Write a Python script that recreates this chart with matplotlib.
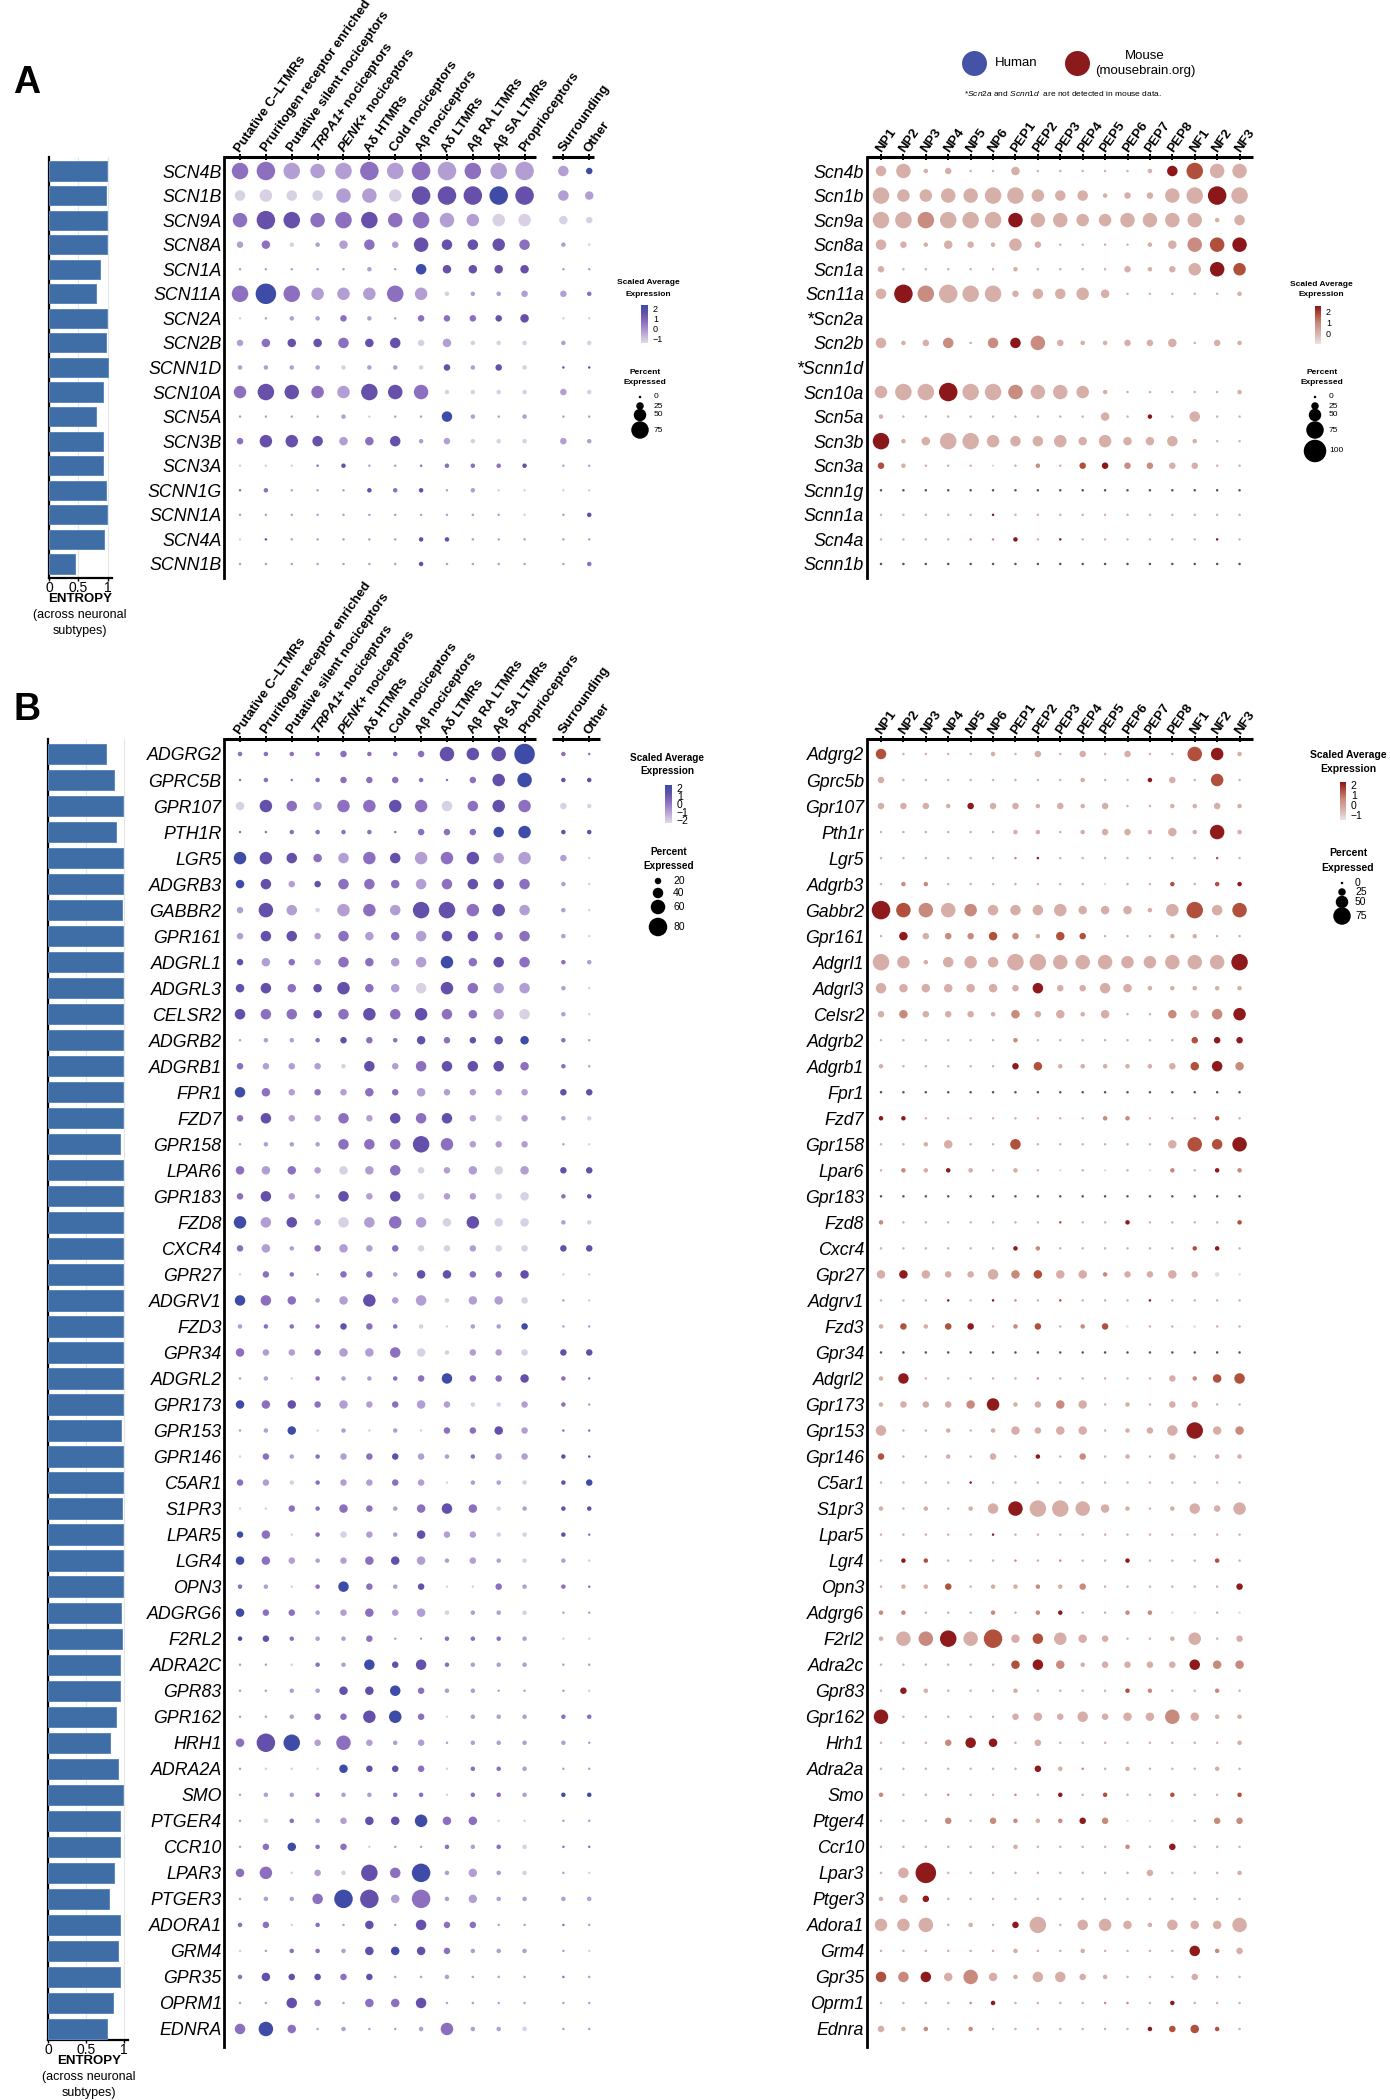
import numpy as np
import matplotlib
matplotlib.use("Agg")
import matplotlib.pyplot as plt
from matplotlib.colors import LinearSegmentedColormap, Normalize
from matplotlib.cm import ScalarMappable

W, H = 1390, 2100
plt.rcParams['font.family'] = ['Liberation Sans', 'DejaVu Sans']
plt.rcParams['mathtext.fontset'] = 'custom'
plt.rcParams['mathtext.rm'] = 'Liberation Sans'
plt.rcParams['mathtext.it'] = 'Liberation Sans:italic'
plt.rcParams['mathtext.bf'] = 'Liberation Sans:bold'
try:
    plt.rcParams['mathtext.bfit'] = 'Liberation Sans:italic:bold'
    BFIT = r'\mathbfit'
except Exception:
    BFIT = r'\mathit'

# ---------------------------------------------------------------- data
HUMAN_COLS = ["Putative C\u2013LTMRs", "Pruritogen receptor enriched",
              "Putative silent nociceptors", "$" + BFIT + "{TRPA1}$+ nociceptors",
              "$" + BFIT + "{PENK}$+ nociceptors", "A\u03b4 HTMRs", "Cold nociceptors",
              "A\u03b2 nociceptors", "A\u03b4 LTMRs", "A\u03b2 RA LTMRs", "A\u03b2 SA LTMRs",
              "Proprioceptors", "Surrounding", "Other"]
MOUSE_COLS = ["NP1", "NP2", "NP3", "NP4", "NP5", "NP6", "PEP1", "PEP2", "PEP3", "PEP4",
              "PEP5", "PEP6", "PEP7", "PEP8", "NF1", "NF2", "NF3"]

# ---- Panel A (sodium channels)
HUMAN_A_GENES = ["SCN4B", "SCN1B", "SCN9A", "SCN8A", "SCN1A", "SCN11A", "SCN2A", "SCN2B",
                 "SCNN1D", "SCN10A", "SCN5A", "SCN3B", "SCN3A", "SCNN1G", "SCNN1A",
                 "SCN4A", "SCNN1B"]
MOUSE_A_GENES = ["Scn4b", "Scn1b", "Scn9a", "Scn8a", "Scn1a", "Scn11a", "*Scn2a", "Scn2b",
                 "*Scnn1d", "Scn10a", "Scn5a", "Scn3b", "Scn3a", "Scnn1g", "Scnn1a",
                 "Scn4a", "Scnn1b"]
ENTROPY_A = [0.99, 0.97, 0.99, 0.98, 0.86, 0.79, 0.99, 0.97, 1.0, 0.91, 0.79, 0.91,
             0.92, 0.97, 0.99, 0.93, 0.45]
# percent expressed, tens digit per cell (human: 12 neuronal + surrounding, other)
HUMAN_A_PCT = ["787678788778 42", "454466588888 43", "687677676555 32", "231134264454 10",
               "000001043333 00", "797555751112 21", "001121022223 00", "233343423111 11",
               "111111112121 00", "576557661111 21", "000010004101 00", "255433412111 21",
               "000010001111 00", "010001110100 00", "000000000000 01", "000000011000 00",
               "000000010000 01"]
# scaled average expression, level code 0 (low) .. 4 (high)
HUMAN_A_EXP = ["221112121211 14", "000011033343 11", "233223221100 00", "120112133332 10",
               "111111143333 11", "242111210111 12", "011121122233 00", "123323301000 10",
               "111101103130 33", "233213320000 10", "111110114111 11", "233312311000 11",
               "000231122223 11", "221113231100 00", "111111111110 13", "031111133111 11",
               "111111131111 12"]
MOUSE_A_PCT = ["461200 30000014 766", "755667 75441226 787", "777777 66655666 614",
               "421321 52000013 666", "200000 10000212 565", "487877 24453000 001",
               "", "412404 46211223 021", "", "577877 66651000 001",
               "100000 00003010 400", "713775 44535334 100", "210000 01022222 200",
               "000000 00000000 000", "000000 00000000 000", "000000 10000000 000",
               "000000 00000000 000"]
MOUSE_A_EXP = ["111111 11111114 311", "111111 11111111 141", "112111 41111111 111",
               "111111 11111111 234", "111111 11111111 143", "142111 11111111 111",
               "", "111212 42111111 111", "", "111411 21111111 111",
               "111111 11111141 111", "411111 11111111 111", "311110 12134221 111",
               "gggggg gggggggg ggg", "111114 11111111 111", "111122 41411111 141",
               "gggggg gggggggg ggg"]

# ---- Panel B (GPCRs)
HUMAN_B_GENES = ["ADGRG2", "GPRC5B", "GPR107", "PTH1R", "LGR5", "ADGRB3", "GABBR2", "GPR161",
                 "ADGRL1", "ADGRL3", "CELSR2", "ADGRB2", "ADGRB1", "FPR1", "FZD7", "GPR158",
                 "LPAR6", "GPR183", "FZD8", "CXCR4", "GPR27", "ADGRV1", "FZD3", "GPR34",
                 "ADGRL2", "GPR173", "GPR153", "GPR146", "C5AR1", "S1PR3", "LPAR5", "LGR4",
                 "OPN3", "ADGRG6", "F2RL2", "ADRA2C", "GPR83", "GPR162", "HRH1", "ADRA2A",
                 "SMO", "PTGER4", "CCR10", "LPAR3", "PTGER3", "ADORA1", "GRM4", "GPR35",
                 "OPRM1", "EDNRA"]
MOUSE_B_GENES = ["Adgrg2", "Gprc5b", "Gpr107", "Pth1r", "Lgr5", "Adgrb3", "Gabbr2", "Gpr161",
                 "Adgrl1", "Adgrl3", "Celsr2", "Adgrb2", "Adgrb1", "Fpr1", "Fzd7", "Gpr158",
                 "Lpar6", "Gpr183", "Fzd8", "Cxcr4", "Gpr27", "Adgrv1", "Fzd3", "Gpr34",
                 "Adgrl2", "Gpr173", "Gpr153", "Gpr146", "C5ar1", "S1pr3", "Lpar5", "Lgr4",
                 "Opn3", "Adgrg6", "F2rl2", "Adra2c", "Gpr83", "Gpr162", "Hrh1", "Adra2a",
                 "Smo", "Ptger4", "Ccr10", "Lpar3", "Ptger3", "Adora1", "Grm4", "Gpr35",
                 "Oprm1", "Ednra"]
ENTROPY_B = [0.76, 0.86, 0.99, 0.89, 0.98, 0.99, 0.97, 0.98, 0.98, 0.98, 0.99, 0.98, 0.98,
             0.98, 0.99, 0.94, 0.98, 0.98, 0.98, 0.98, 0.98, 0.98, 0.98, 0.98, 0.99, 0.98,
             0.96, 0.99, 0.98, 0.97, 0.98, 0.98, 0.98, 0.96, 0.97, 0.94, 0.94, 0.89, 0.82,
             0.92, 0.98, 0.95, 0.95, 0.87, 0.80, 0.94, 0.92, 0.95, 0.85, 0.78]
HUMAN_B_PCT = ["111121126569 10", "010122210256 11", "354355554455 21", "001111022245 11",
               "554345455545 20", "342244344444 10", "264155477554 10", "244243344434 10",
               "232243345344 11", "343353345444 10", "444345454344 10", "011122132233 10",
               "222214244443 10", "432223232222 22", "242242444222 11", "011144475222 00",
               "333233422333 22", "242142422223 11", "544244543533 11", "231232222222 22",
               "021022133223 00", "443135241332 00", "111122110112 00", "322233431222 22",
               "010111124223 10", "333232232112 10", "013010102232 00", "021122221122 10",
               "221122220111 12", "002132134311 11", "230122132211 10", "332123331211 10",
               "110142120021 10", "322123231111 00", "121112001111 00", "000114241111 00",
               "001133421100 00", "001225520111 11", "387262120111 10", "000032220111 00",
               "011111110111 11", "011123353300 00", "023120001111 00", "350217481311 00",
               "011488381311 11", "120103042200 00", "001113332111 00", "132222001000 00",
               "004203340000 00", "463010015111 00"]
HUMAN_B_EXP = ["222222223334 22", "222222222234 33", "032122320232 00", "222222222244 33",
               "433212312311 10", "431322212332 10", "131012133231 10", "133121213322 10",
               "312122114232 21", "332332103211 10", "322323232210 10", "111232232334 21",
               "211103123332 21", "421212211111 33", "231121323101 10", "111122232111 10",
               "212101201101 33", "231131301100 23", "413101210300 10", "211211200100 33",
               "022122133223 00", "422113110110 10", "122232200114 11", "211211200110 33",
               "110211224223 22", "423211211001 21", "114010102231 22", "021212311211 33",
               "210211210110 34", "002222123201 33", "420201131100 32", "421112311110 10",
               "210242130021 22", "422112110110 11", "432112112221 00", "110214332111 11",
               "111133421111 10", "111223420111 22", "234121111111 11", "100043320221 11",
               "111211220221 44", "102113342200 11", "124220112120 22", "220103241110 10",
               "111243121111 11", "220213132211 21", "012213432111 10", "233323111111 21",
               "113212231111 11", "242111112110 11"]
MOUSE_B_PCT = ["400001 02020200 651", "200000 00010012 050", "222122 21212001 121",
               "000000 11012213 161", "000000 00000000 000", "011000 00000001 011",
               "866654 44533315 746", "032223 21320001 100", "751454 77666556 667",
               "433333 24224311 111", "232221 32313003 345", "000000 10000000 222",
               "100000 23111112 343", "000000 00000000 000", "110000 00001100 010",
               "001300 40000003 646", "011110 10000001 011", "000000 00000000 000",
               "100000 00000100 001", "000000 11000000 110", "333224 33331223 210",
               "000000 00000000 000", "121220 12012000 000", "000000 00000000 000",
               "140000 00000002 134", "122235 12330102 200", "400101 32330124 733",
               "200102 01020102 011", "000000 00000000 000", "101014 67763101 425",
               "000000 00000000 000", "011000 00000100 010", "011201 11120000 002",
               "110001 01100110 000", "166768 34532001 502", "000000 34312222 433",
               "021000 10000110 010", "600000 23242336 311", "000243 02000000 001",
               "000000 02100100 010", "100000 00101001 001", "000202 11122000 022",
               "000000 10000102 000", "049000 00000020 001", "132000 00000000 000",
               "556010 27045314 336", "000000 10010000 412", "444363 14421000 200",
               "000001 00000001 000", "211010 00000012 310"]
MOUSE_B_EXP = ["311111 11111111 341", "111111 11111141 131", "111141 11111111 111",
               "111111 11111111 141", "111111 24111111 131", "122111 11110113 134",
               "432121 11111111 313", "141223 21331111 111", "111111 11111111 114",
               "111111 14111111 111", "121111 21111112 124", "111111 21111111 344",
               "111111 43111111 342", "gggggg gggggggg ggg", "441111 11112211 131",
               "111111 31111111 334", "121411 11010102 142", "gggggg gggggggg ggg",
               "211111 11311411 113", "111111 42111111 341", "141111 23112111 100",
               "111414 21311141 111", "131341 23123011 011", "gggggg gggggggg ggg",
               "141111 12111111 233", "111124 11211111 111", "111111 11111111 412",
               "311111 14121111 111", "111141 11111111 111", "111111 41111111 111",
               "111114 11111111 111", "143111 21211411 131", "111311 12121111 114",
               "221112 12411220 010", "112413 13111111 111", "111111 34211111 422",
               "141111 11111321 121", "411111 11111112 111", "111244 11111111 111",
               "111111 14121111 111", "211211 21413113 113", "111212 21242000 122",
               "111111 11111214 111", "114111 11111111 111", "114111 11111111 111",
               "111111 41111111 111", "111111 11111111 421", "324121 11111111 111",
               "111124 11112214 111", "112121 11111143 331"]

# scaled-expression value of each level code, per panel
HUMAN_A_LEVELS = [-1.3, -0.35, 0.6, 1.45, 2.2]
MOUSE_A_LEVELS = [-0.8, 0.05, 0.9, 1.7, 2.4]
HUMAN_B_LEVELS = [-2.15, -0.95, 0.25, 1.35, 2.3]
MOUSE_B_LEVELS = [-1.3, -0.35, 0.6, 1.45, 2.2]

# ---------------------------------------------------------------- styling
HUMAN_CMAP = LinearSegmentedColormap.from_list(
    "hum", [(0.0, "#e0dce8"), (0.3, "#b29ed2"), (0.55, "#8c70bf"), (0.78, "#6550aa"),
            (1.0, "#3b4ca7")])
MOUSE_CMAP = LinearSegmentedColormap.from_list(
    "mou", [(0.0, "#ece4e4"), (0.3, "#d6aea7"), (0.55, "#c98b7f"), (0.78, "#b04f3c"),
            (1.0, "#8a1418")])
NAN_COLOR = "#555555"
BAR_COLOR = "#3f6ea6"

fig = plt.figure(figsize=(W / 100, H / 100), dpi=100)


def rect(x0, y0, x1, y1):
    return [x0 / W, 1 - y1 / H, (x1 - x0) / W, (y1 - y0) / H]


def dot_area(pct):
    d_px = 2.5 + 0.2 * np.asarray(pct, dtype=float)
    return (d_px * 0.72) ** 2


def parse(s):
    return [ch for ch in s if ch != " "]


def dotplot(ax, genes, pct_rows, exp_rows, xpos, levels, cmap, norm):
    xs, ys, ss, cs = [], [], [], []
    for i, (ps, es) in enumerate(zip(pct_rows, exp_rows)):
        p = parse(ps)
        e = parse(es)
        for j in range(min(len(p), len(e), len(xpos))):
            xs.append(xpos[j])
            ys.append(i)
            ss.append(int(p[j]) * 10)
            if e[j] == "g":
                cs.append(NAN_COLOR)
            else:
                cs.append(cmap(norm(levels[int(e[j])])))
    ax.scatter(xs, ys, s=dot_area(ss), c=cs, linewidths=0, zorder=3, clip_on=False)
    ax.set_yticks(range(len(genes)))
    ax.set_yticklabels(genes, fontstyle="italic", fontsize=12.8)
    ax.tick_params(axis="y", length=0, pad=2)
    for sp in ["top", "right", "bottom"]:
        ax.spines[sp].set_visible(False)
    ax.spines["left"].set_linewidth(2.0)
    ax.patch.set_visible(False)


def col_labels(ax, labels, xpos, ytop, fs):
    ax.set_xticks([])
    for lab, x in zip(labels, xpos):
        ax.annotate(lab, xy=(x, ytop), xycoords="data", xytext=(-2, 6),
                    textcoords="offset pixels", rotation=55, ha="left", va="center",
                    rotation_mode="anchor", fontsize=fs, fontweight="bold",
                    annotation_clip=False)
        ax.plot([x, x], [ytop, ytop], marker=(2, 0, 0), ms=4, mew=1.2, color="black",
                clip_on=False, zorder=5)


def top_line(ax, x0, x1, ytop):
    ax.plot([x0, x1], [ytop, ytop], color="black", lw=2.2, clip_on=False,
            solid_capstyle="butt", zorder=5)


def entropy_bars(ax, values, xmax):
    ax.barh(range(len(values)), values, height=0.78, color=BAR_COLOR,
            edgecolor="#5c88bd", linewidth=0.7, zorder=3)
    ax.set_xlim(0, xmax)
    ax.set_xticks([0, 0.5, 1])
    ax.set_xticklabels(["0", "0.5", "1"], fontsize=10)
    ax.tick_params(axis="x", length=2, width=1, pad=0.5)
    ax.set_yticks([])
    ax.grid(axis="x", color="#e6e6e6", lw=0.8, zorder=0)
    ax.set_axisbelow(True)
    for sp in ["top", "right"]:
        ax.spines[sp].set_visible(False)
    ax.spines["left"].set_linewidth(1.6)
    ax.spines["bottom"].set_linewidth(1.6)
    ax.patch.set_visible(False)


# column positions
hx = list(np.arange(12, dtype=float)) + [12.5, 13.5]
mx = list(np.arange(17, dtype=float))
M_LEFT, M_RIGHT = 867, 1253
M_XLIM = (-0.625, 16.6)

# ---------------------------------------------------------------- panel A
A_TOP, A_BOT, A_ROW0, A_STEP = 157, 578, 171, 24.56
ya = (-(A_ROW0 - A_TOP) / A_STEP, (A_BOT - A_ROW0) / A_STEP)
ax_hA = fig.add_axes(rect(224.5, A_TOP, 597, A_BOT))
ax_hA.set_xlim(-0.6, 13.8)
ax_hA.set_ylim(ya[1], ya[0])
norm_hA = Normalize(-1.5, 2.3)
dotplot(ax_hA, HUMAN_A_GENES, HUMAN_A_PCT, HUMAN_A_EXP, hx, HUMAN_A_LEVELS, HUMAN_CMAP, norm_hA)
col_labels(ax_hA, HUMAN_COLS, hx, ya[0], 9.5)
top_line(ax_hA, -0.6, 11.45, ya[0])
top_line(ax_hA, 12.05, 13.7, ya[0])

ax_mA = fig.add_axes(rect(M_LEFT, A_TOP, M_RIGHT, A_BOT))
ax_mA.set_xlim(*M_XLIM)
ax_mA.set_ylim(ya[1], ya[0])
norm_mA = Normalize(-0.95, 2.45)
dotplot(ax_mA, MOUSE_A_GENES, MOUSE_A_PCT, MOUSE_A_EXP, mx, MOUSE_A_LEVELS, MOUSE_CMAP, norm_mA)
col_labels(ax_mA, MOUSE_COLS, mx, ya[0], 9.7)
top_line(ax_mA, M_XLIM[0], M_XLIM[1], ya[0])

ax_eA = fig.add_axes(rect(49, A_TOP, 112, A_BOT))
entropy_bars(ax_eA, ENTROPY_A, 1.07)
ax_eA.set_ylim(ya[1], ya[0])

# ---------------------------------------------------------------- panel B
B_TOP, B_BOT, B_ROW0, B_STEP = 739, 2047, 754, 26.02
yb = (-(B_ROW0 - B_TOP) / B_STEP, (B_BOT - B_ROW0) / B_STEP)
ax_hB = fig.add_axes(rect(224.5, B_TOP, 597, B_BOT))
ax_hB.set_xlim(-0.6, 13.8)
ax_hB.set_ylim(yb[1], yb[0])
norm_hB = Normalize(-2.4, 2.4)
dotplot(ax_hB, HUMAN_B_GENES, HUMAN_B_PCT, HUMAN_B_EXP, hx, HUMAN_B_LEVELS, HUMAN_CMAP, norm_hB)
col_labels(ax_hB, HUMAN_COLS, hx, yb[0], 9.5)
top_line(ax_hB, -0.6, 11.45, yb[0])
top_line(ax_hB, 12.05, 13.9, yb[0])

ax_mB = fig.add_axes(rect(M_LEFT, B_TOP, M_RIGHT, B_BOT))
ax_mB.set_xlim(*M_XLIM)
ax_mB.set_ylim(yb[1], yb[0])
norm_mB = Normalize(-1.5, 2.3)
dotplot(ax_mB, MOUSE_B_GENES, MOUSE_B_PCT, MOUSE_B_EXP, mx, MOUSE_B_LEVELS, MOUSE_CMAP, norm_mB)
col_labels(ax_mB, MOUSE_COLS, mx, yb[0], 9.7)
top_line(ax_mB, M_XLIM[0], M_XLIM[1], yb[0])

B_EBOT = 2040
ax_eB = fig.add_axes(rect(48, B_TOP, 128, B_EBOT))
entropy_bars(ax_eB, ENTROPY_B, 1.05)
ax_eB.set_ylim((B_EBOT - B_ROW0) / B_STEP, yb[0])

# ---------------------------------------------------------------- overlay: labels & legends
ov = fig.add_axes([0, 0, 1, 1])
ov.set_xlim(0, W)
ov.set_ylim(H, 0)
ov.axis("off")
ov.patch.set_visible(False)

ov.text(13, 83, "A", fontsize=27, fontweight="bold", va="center", ha="left")
ov.text(13, 710, "B", fontsize=27, fontweight="bold", va="center", ha="left")

# entropy axis titles
for cx, ys in [(80, (599, 615, 631)), (89, (2061, 2077, 2093))]:
    ov.text(cx, ys[0], "ENTROPY", fontsize=9.5, fontweight="bold", ha="center", va="center")
    ov.text(cx, ys[1], "(across neuronal", fontsize=9, ha="center", va="center")
    ov.text(cx, ys[2], "subtypes)", fontsize=9, ha="center", va="center")

# species legend
ov.scatter([974], [63], s=(25 * 0.72) ** 2, color="#4453a6", linewidths=0)
ov.text(995, 63, "Human", fontsize=9.5, ha="left", va="center")
ov.scatter([1077], [63], s=(25 * 0.72) ** 2, color="#8b1a1c", linewidths=0)
ov.text(1145, 56, "Mouse", fontsize=9.5, ha="center", va="center")
ov.text(1145, 71, "(mousebrain.org)", fontsize=9.5, ha="center", va="center")
ov.text(964, 94, r"*$\mathit{Scn2a}$ and $\mathit{Scnn1d}$  are not detected in mouse data.",
        fontsize=6, ha="left", va="center")


def exp_legend(cx, tys, fs, cbr, norm, cmap, ticks, lfs):
    ov.text(cx, tys[0], "Scaled Average", fontsize=fs, fontweight="bold", ha="center", va="center")
    ov.text(cx, tys[1], "Expression", fontsize=fs, fontweight="bold", ha="center", va="center")
    cax = fig.add_axes(rect(*cbr))
    cb = fig.colorbar(ScalarMappable(norm=norm, cmap=cmap), cax=cax, ticks=ticks)
    cb.outline.set_visible(False)
    cax.tick_params(length=2, width=0.8, color="white", labelsize=lfs, pad=1.5)


def pct_legend(cx, tys, fs, dx, lx, dys, vals, lfs):
    ov.text(cx, tys[0], "Percent", fontsize=fs, fontweight="bold", ha="center", va="center")
    ov.text(cx, tys[1], "Expressed", fontsize=fs, fontweight="bold", ha="center", va="center")
    ov.scatter([dx] * len(vals), dys, s=dot_area(vals), color="black", linewidths=0)
    for v, y in zip(vals, dys):
        ov.text(lx, y, str(v), fontsize=lfs, ha="left", va="center")


exp_legend(648, (283, 294), 6, (641, 305, 648, 343), norm_hA, HUMAN_CMAP, [-1, 0, 1, 2], 6.5)
pct_legend(645, (372, 382), 6, 640, 654, [397, 406, 415, 430], [0, 25, 50, 75], 6)
exp_legend(1321, (284, 295), 6, (1315, 306, 1321, 344), norm_mA, MOUSE_CMAP, [0, 1, 2], 6.5)
pct_legend(1322, (372, 382), 6, 1315, 1329, [397, 406, 415, 430, 451], [0, 25, 50, 75, 100], 6)

exp_legend(667, (758, 771), 7.2, (665, 785, 672, 823), norm_hB, HUMAN_CMAP, [-2, -1, 0, 1, 2], 7.5)
pct_legend(669, (852, 866), 7.2, 658, 673, [881, 893, 907, 927], [20, 40, 60, 80], 7.5)
exp_legend(1348, (755, 769), 7.5, (1340, 782, 1346, 820), norm_mB, MOUSE_CMAP, [-1, 0, 1, 2], 7.5)
pct_legend(1348, (853, 868), 7.5, 1342, 1355, [883, 892, 902, 916], [0, 25, 50, 75], 7.5)

fig.savefig("out.png", dpi=100)
